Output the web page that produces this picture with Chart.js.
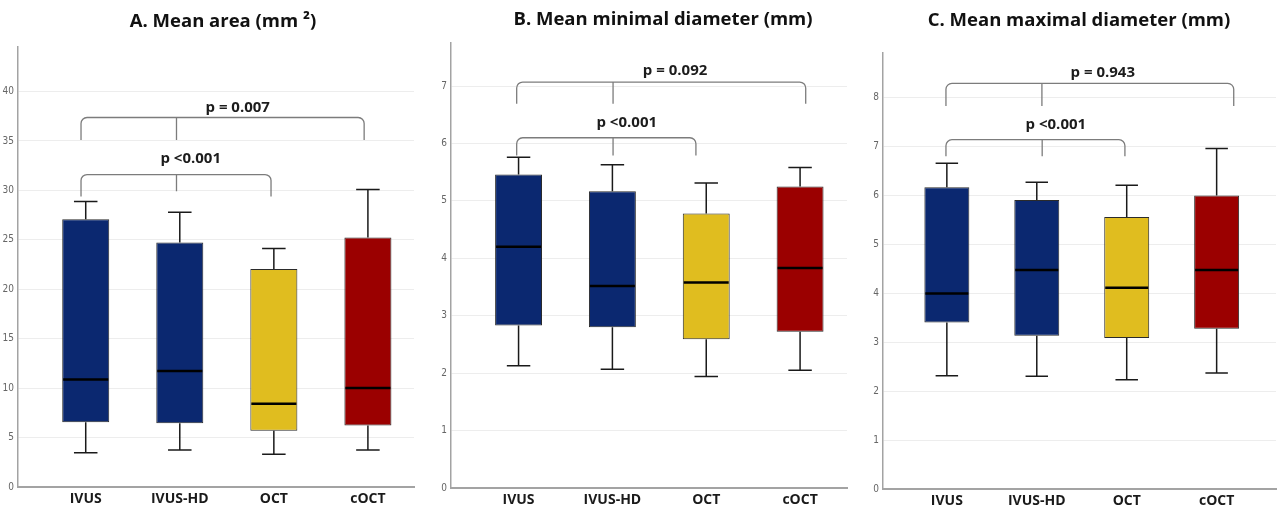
<!DOCTYPE html>
<html><head><meta charset="utf-8">
<script src="https://cdn.jsdelivr.net/npm/chart.js@4.4.1/dist/chart.umd.min.js"></script>
<style>
html,body{margin:0;padding:0;background:#fff;width:1281px;height:509px;overflow:hidden}
canvas{position:absolute;top:0}
</style></head><body>
<canvas id="cA" width="430" height="509" style="left:0px"></canvas>
<canvas id="cB" width="430" height="509" style="left:430px"></canvas>
<canvas id="cC" width="421" height="509" style="left:860px"></canvas>
<script>
// ---- data ----
const categories = ['IVUS', 'IVUS-HD', 'OCT', 'cOCT'];
const boxColors = ['#0b2870', '#0b2870', '#e0bd1f', '#9b0000'];

// A. Mean area (mm2)
const areaMin    = [3.47, 3.74, 3.31, 3.74];
const areaQ1     = [6.54, 6.44, 5.70, 6.21];
const areaMedian = [10.86, 11.74, 8.43, 10.02];
const areaQ3     = [27.08, 24.72, 22.06, 25.23];
const areaMax    = [28.87, 27.79, 24.11, 30.08];
const areaTicks  = [0, 5, 10, 15, 20, 25, 30, 35, 40];

// B. Mean minimal diameter (mm)
const minDMin    = [2.13, 2.07, 1.94, 2.05];
const minDQ1     = [2.83, 2.80, 2.59, 2.72];
const minDMedian = [4.20, 3.52, 3.58, 3.83];
const minDQ3     = [5.46, 5.17, 4.78, 5.25];
const minDMax    = [5.76, 5.63, 5.31, 5.58];
const minDTicks  = [0, 1, 2, 3, 4, 5, 6, 7];

// C. Mean maximal diameter (mm)
const maxDMin    = [2.31, 2.30, 2.23, 2.37];
const maxDQ1     = [3.40, 3.13, 3.08, 3.27];
const maxDMedian = [3.99, 4.47, 4.11, 4.47];
const maxDQ3     = [6.16, 5.90, 5.55, 5.99];
const maxDMax    = [6.65, 6.26, 6.20, 6.95];
const maxDTicks  = [0, 1, 2, 3, 4, 5, 6, 7, 8];

// significance brackets (data coordinates): x positions [left, middle, right], line y, leg ends y [l, m, r]
const areaBrackets = [
  {label: 'p = 0.007', xs: [-0.05, 0.965, 2.96], y: 37.37, legs: [35.1, 35.1, 35.1], tx: 1.616, ty: 38.38},
  {label: 'p <0.001', xs: [-0.05, 0.965, 1.97], y: 31.6, legs: [29.38, 29.9, 29.38], tx: 1.116, ty: 33.15}
];
const minDBrackets = [
  {label: 'p = 0.092', xs: [-0.02, 1.007, 3.06], y: 7.07, legs: [6.69, 6.69, 6.69], tx: 1.668, ty: 7.26},
  {label: 'p <0.001', xs: [-0.02, 1.007, 1.89], y: 6.10, legs: [5.79, 5.79, 5.79], tx: 1.153, ty: 6.36}
];
const maxDBrackets = [
  {label: 'p = 0.943', xs: [-0.01, 1.057, 3.19], y: 8.28, legs: [7.82, 7.82, 7.82], tx: 1.734, ty: 8.50},
  {label: 'p <0.001', xs: [-0.01, 1.06, 1.98], y: 7.13, legs: [6.79, 6.79, 6.79], tx: 1.212, ty: 7.44}
];

// ---- drawing ----
const FONT = '"Open Sans", "Liberation Sans", sans-serif';
const TICKFONT = '"Liberation Sans Narrow", "DejaVu Sans Condensed", "Liberation Sans", sans-serif';

const boxPlugin = {
  id: 'boxExtras',
  afterDatasetsDraw(chart) {
    const o = chart.options.plugins.boxExtras;
    const {ctx, scales: {y}} = chart;
    const meta = chart.getDatasetMeta(0);
    ctx.save();
    meta.data.forEach((bar, i) => {
      const cx = bar.x, w = bar.width, cap = w * 0.5;
      const yMax = y.getPixelForValue(o.max[i]);
      const yQ3 = y.getPixelForValue(o.q3[i]);
      const yQ1 = y.getPixelForValue(o.q1[i]);
      const yMin = y.getPixelForValue(o.min[i]);
      const yMed = y.getPixelForValue(o.median[i]);
      ctx.strokeStyle = '#1a1a1a';
      ctx.lineWidth = 1.5;
      ctx.beginPath();
      ctx.moveTo(cx, yQ3); ctx.lineTo(cx, yMax);
      ctx.moveTo(cx - cap / 2, yMax); ctx.lineTo(cx + cap / 2, yMax);
      ctx.moveTo(cx, yQ1); ctx.lineTo(cx, yMin);
      ctx.moveTo(cx - cap / 2, yMin); ctx.lineTo(cx + cap / 2, yMin);
      ctx.stroke();
      ctx.strokeStyle = '#000';
      ctx.lineWidth = 2.5;
      ctx.beginPath();
      ctx.moveTo(cx - w / 2 + 1, yMed); ctx.lineTo(cx + w / 2 - 1, yMed);
      ctx.stroke();
    });
    ctx.restore();
  },
  afterDraw(chart) {
    const o = chart.options.plugins.boxExtras;
    const {ctx, scales: {x, y}} = chart;
    ctx.save();
    // title
    ctx.fillStyle = '#111';
    ctx.font = 'bold 18.5px ' + FONT;
    ctx.textAlign = 'center';
    ctx.textBaseline = 'middle';
    ctx.fillText(o.title, o.titleX, o.titleY);
    // brackets
    const r = 6;
    o.brackets.forEach(b => {
      const xl = x.getPixelForValue(b.xs[0]);
      const xm = x.getPixelForValue(b.xs[1]);
      const xr = x.getPixelForValue(b.xs[2]);
      const yt = y.getPixelForValue(b.y);
      ctx.strokeStyle = '#7c7c7c';
      ctx.lineWidth = 1.3;
      ctx.beginPath();
      ctx.moveTo(xl, y.getPixelForValue(b.legs[0]));
      ctx.lineTo(xl, yt + r);
      ctx.arcTo(xl, yt, xl + r, yt, r);
      ctx.lineTo(xr - r, yt);
      ctx.arcTo(xr, yt, xr, yt + r, r);
      ctx.lineTo(xr, y.getPixelForValue(b.legs[2]));
      ctx.moveTo(xm, yt);
      ctx.lineTo(xm, y.getPixelForValue(b.legs[1]));
      ctx.stroke();
      ctx.fillStyle = '#1c1c1c';
      ctx.font = 'bold 15px ' + FONT;
      ctx.fillText(b.label, x.getPixelForValue(b.tx), y.getPixelForValue(b.ty));
    });
    ctx.restore();
  }
};

function makePanel(id, p) {
  new Chart(document.getElementById(id), {
    type: 'bar',
    data: {
      datasets: [{
        data: categories.map((c, i) => ({x: i, y: [p.q1[i], p.q3[i]]})),
        backgroundColor: boxColors,
        borderColor: '#2b2b2b',
        borderWidth: 1,
        borderSkipped: false,
        barPercentage: 0.5,
        categoryPercentage: 1.0
      }]
    },
    options: {
      responsive: false,
      animation: false,
      devicePixelRatio: 1,
      layout: {padding: {top: p.top, right: p.padRight, left: 0, bottom: 0}},
      plugins: {
        legend: {display: false},
        tooltip: {enabled: false},
        title: {display: false},
        boxExtras: {
          min: p.min, q1: p.q1, median: p.median, q3: p.q3, max: p.max,
          brackets: p.brackets, title: p.title, titleX: p.titleX, titleY: p.titleY
        }
      },
      scales: {
        x: {
          type: 'linear',
          min: p.xMin, max: p.xMax,
          offset: false,
          grid: {display: false, drawTicks: false},
          border: {display: true, color: '#a3a3a3', width: 2},
          afterBuildTicks: s => { s.ticks = categories.map((c, i) => ({value: i})); },
          afterFit: s => { s.height = p.xH; },
          ticks: {
            autoSkip: false, maxRotation: 0, padding: 4,
            color: '#1a1a1a',
            font: {family: FONT, size: 14, weight: 'bold'},
            callback: v => categories[v]
          }
        },
        y: {
          type: 'linear',
          min: 0, max: p.yMax,
          grid: {color: '#ededed', lineWidth: 1, drawTicks: false},
          border: {display: true, color: '#a3a3a3', width: 1.5},
          afterBuildTicks: s => { s.ticks = p.ticks.map(v => ({value: v})); },
          afterFit: s => { s.width = p.yW; },
          ticks: {
            padding: 4,
            color: '#666',
            font: {family: TICKFONT, size: 10},
            callback: v => String(v)
          }
        }
      }
    },
    plugins: [boxPlugin]
  });
}

makePanel('cA', {
  min: areaMin, q1: areaQ1, median: areaMedian, q3: areaQ3, max: areaMax,
  ticks: areaTicks, brackets: areaBrackets, title: 'A. Mean area (mm ²)',
  titleX: 223, titleY: 22, top: 47, padRight: 16, yW: 18, xH: 22,
  xMin: -0.72, xMax: 3.49, yMax: 44.5
});
makePanel('cB', {
  min: minDMin, q1: minDQ1, median: minDMedian, q3: minDQ3, max: minDMax,
  ticks: minDTicks, brackets: minDBrackets, title: 'B. Mean minimal diameter (mm)',
  titleX: 233, titleY: 20, top: 43, padRight: 13, yW: 21, xH: 21,
  xMin: -0.72, xMax: 3.50, yMax: 7.75
});
makePanel('cC', {
  min: maxDMin, q1: maxDQ1, median: maxDMedian, q3: maxDQ3, max: maxDMax,
  ticks: maxDTicks, brackets: maxDBrackets, title: 'C. Mean maximal diameter (mm)',
  titleX: 219, titleY: 21, top: 53, padRight: 5, yW: 23, xH: 20,
  xMin: -0.71, xMax: 3.66, yMax: 8.9
});
</script>
</body></html>
